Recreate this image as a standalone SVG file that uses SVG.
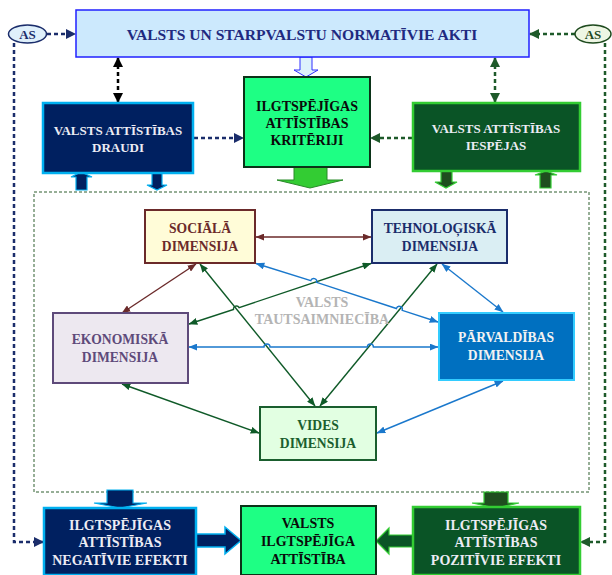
<svg xmlns="http://www.w3.org/2000/svg" width="612" height="575" viewBox="0 0 612 575">
  <style>
    text { font-family: "Liberation Serif", "Times New Roman", serif; font-weight: bold; text-anchor: middle; dominant-baseline: central; }
    .t-top { font-size: 15.6px; fill: #1f2a80; }
    .t-light { font-size: 13px; fill: #ececf4; }
    .t-big { font-size: 14px; }
    .t-dark { font-size: 14px; fill: #0a0a0a; }
    .t-dim { font-size: 13.6px; }
    .t-grey { font-size: 14px; fill: #b4b4b4; }
    .dash-thick { fill: none; stroke-width: 2.5; stroke-dasharray: 4 3; }
    .conn { fill: none; stroke-width: 1.4; }
  </style>
  <defs>
    <marker id="m-navy" viewBox="0 0 10 10" refX="9" refY="5" markerWidth="10" markerHeight="10" markerUnits="userSpaceOnUse" orient="auto-start-reverse">
      <path d="M0,0 L10,5 L0,10 z" fill="#1b2d6b"/>
    </marker>
    <marker id="m-green" viewBox="0 0 10 10" refX="9" refY="5" markerWidth="10" markerHeight="10" markerUnits="userSpaceOnUse" orient="auto-start-reverse">
      <path d="M0,0 L10,5 L0,10 z" fill="#1e5a2a"/>
    </marker>
    <marker id="m-black" viewBox="0 0 10 10" refX="9" refY="5" markerWidth="10" markerHeight="10" markerUnits="userSpaceOnUse" orient="auto-start-reverse">
      <path d="M0,0 L10,5 L0,10 z" fill="#000"/>
    </marker>
    <marker id="s-brown" viewBox="0 0 10 8" refX="9.5" refY="4" markerWidth="9" markerHeight="7" markerUnits="userSpaceOnUse" orient="auto-start-reverse">
      <path d="M0,0 L10,4 L0,8 z" fill="#6b2a2a"/>
    </marker>
    <marker id="s-green" viewBox="0 0 10 8" refX="9.5" refY="4" markerWidth="9" markerHeight="7" markerUnits="userSpaceOnUse" orient="auto-start-reverse">
      <path d="M0,0 L10,4 L0,8 z" fill="#0f5a28"/>
    </marker>
    <marker id="s-blue" viewBox="0 0 10 8" refX="9.5" refY="4" markerWidth="9" markerHeight="7" markerUnits="userSpaceOnUse" orient="auto-start-reverse">
      <path d="M0,0 L10,4 L0,8 z" fill="#1a78cc"/>
    </marker>
  </defs>

  <!-- economy frame -->
  <rect x="34" y="192" width="555" height="300" fill="none" stroke="#2f5f2f" stroke-width="1" stroke-dasharray="3 2"/>

  <!-- block arrows -->
  <g id="block-arrows">
    <polygon points="300,57 312,57 312,70 318,70 306,77 294,70 300,70" fill="#ddf2fb" stroke="#3030ff" stroke-width="1"/>
    <polygon points="294,167 327,167 327,180 343,180 310,188 277,180 294,180" fill="#33cc33" stroke="#2a8a2a" stroke-width="1"/>
    <polygon points="81,172 92,177 87,177 87,190 76,190 76,177 71,177" fill="#002060" stroke="#00b0f0" stroke-width="1.2"/>
    <polygon points="152,173 162,173 162,185 167,185 157,190 147,185 152,185" fill="#002060" stroke="#00b0f0" stroke-width="1.2"/>
    <polygon points="441,171 452,171 452,182 457,182 446,188 435,182 441,182" fill="#1f4e1f" stroke="#33cc33" stroke-width="1.2"/>
    <polygon points="546,171 557,175 551,175 551,188 540,188 540,175 535,175" fill="#1f4e1f" stroke="#33cc33" stroke-width="1.2"/>
    <polygon points="107,490 133,490 133,503 147,503 120,508 94,503 107,503" fill="#002060" stroke="#00b0f0" stroke-width="1.2"/>
    <polygon points="484,492 508,492 508,503 519,503 496,508 472,503 484,503" fill="#1f4e1f" stroke="#33cc33" stroke-width="1.2"/>
    <polygon points="196,534 225,534 225,527 241,540.5 225,554 225,547 196,547" fill="#002060" stroke="#00b0f0" stroke-width="1.5"/>
    <polygon points="413,535 389,535 389,528 376,541 389,554 389,547 413,547" fill="#0a5426" stroke="#33cc33" stroke-width="1.2"/>
  </g>

  <!-- connectors -->
  <g id="connectors">
    <path class="dash-thick" stroke="#1b2d6b" d="M47,34 H75" marker-end="url(#m-navy)"/>
    <path class="dash-thick" stroke="#1e5a2a" d="M575,34 H530" marker-end="url(#m-green)"/>
    <path class="dash-thick" stroke="#1b2d6b" d="M14,43 V542 H43" marker-end="url(#m-navy)"/>
    <path class="dash-thick" stroke="#1e5a2a" d="M605,43 V542 H581" marker-end="url(#m-green)"/>
    <path class="dash-thick" stroke="#000" d="M118,58 V102" marker-start="url(#m-black)" marker-end="url(#m-black)"/>
    <path class="dash-thick" stroke="#1e5a2a" d="M495,58 V102" marker-start="url(#m-green)" marker-end="url(#m-green)"/>
    <path class="dash-thick" stroke="#1b2d6b" d="M194,138 H243" marker-end="url(#m-navy)"/>
    <path class="dash-thick" stroke="#1e5a2a" d="M412,138 H371" marker-end="url(#m-green)"/>

    <path class="conn" stroke="#6b2a2a" d="M256,237 H371" marker-start="url(#s-brown)" marker-end="url(#s-brown)"/>
    <path class="conn" stroke="#6b2a2a" d="M196,264 L122,313" marker-start="url(#s-brown)" marker-end="url(#s-brown)"/>
    <path class="conn" stroke="#0f5a28" d="M200,264 L315,406" marker-start="url(#s-green)" marker-end="url(#s-green)"/>
    <path class="conn" stroke="#0f5a28" d="M437,264 L320,406" marker-start="url(#s-green)" marker-end="url(#s-green)"/>
    <path class="conn" stroke="#0f5a28" d="M189,324 L233.5,309.5 A3,3 0 0 1 239.1,307.6 L371,263.5" marker-start="url(#s-green)" marker-end="url(#s-green)"/>
    <path class="conn" stroke="#1a78cc" d="M256,263.5 L310.8,280.6 A3,3 0 0 1 316.6,282.4 L396.4,308.5 A3,3 0 0 1 402.2,310.3 L438,322" marker-start="url(#s-blue)" marker-end="url(#s-blue)"/>
    <path class="conn" stroke="#1a78cc" d="M189,347 L264,347 A3,3 0 0 1 270,347 L367.4,347 A3,3 0 0 1 373.4,347 L438,347" marker-start="url(#s-blue)" marker-end="url(#s-blue)"/>
    <path class="conn" stroke="#1a78cc" d="M442,264 L503,312" marker-start="url(#s-blue)" marker-end="url(#s-blue)"/>
    <path class="conn" stroke="#0f5a28" d="M122,384 L259,433" marker-start="url(#s-green)" marker-end="url(#s-green)"/>
    <path class="conn" stroke="#1a78cc" d="M503,381 L377,433" marker-start="url(#s-blue)" marker-end="url(#s-blue)"/>
  </g>

  <!-- nodes -->
  <g id="as-left">
    <ellipse cx="27.5" cy="34" rx="19" ry="9" fill="#dff0fb" stroke="#1b2d6b" stroke-width="1.5"/>
    <text x="27.5" y="34" style="font-size:13px;fill:#1b2d6b">AS</text>
  </g>
  <g id="as-right">
    <ellipse cx="593" cy="34" rx="18" ry="9" fill="#eef6e4" stroke="#1e4a1e" stroke-width="1.5"/>
    <text x="593" y="34" style="font-size:13px;fill:#1e4a1e">AS</text>
  </g>
  <g id="normativie-akti">
    <rect x="76" y="10" width="453" height="47" fill="#cce9fd" stroke="#2020ff" stroke-width="1.5"/>
    <text class="t-top" x="302" y="34">VALSTS UN STARPVALSTU NORMATĪVIE AKTI</text>
  </g>
  <g id="draudi">
    <rect x="43" y="103" width="150" height="70" fill="#002060" stroke="#00b0f0" stroke-width="2.5"/>
    <text class="t-light" x="118" y="130">VALSTS ATTĪSTĪBAS</text>
    <text class="t-light" x="118" y="147">DRAUDI</text>
  </g>
  <g id="kriteriji">
    <rect x="244" y="77" width="126" height="90" fill="#1eff84" stroke="#0b3318" stroke-width="2"/>
    <text class="t-dark" x="307" y="106">ILGTSPĒJĪGAS</text>
    <text class="t-dark" x="307" y="123">ATTĪSTĪBAS</text>
    <text class="t-dark" x="307" y="140">KRITĒRIJI</text>
  </g>
  <g id="iespejas">
    <rect x="413" y="103" width="167" height="68" fill="#0a5426" stroke="#33cc33" stroke-width="2.5"/>
    <text class="t-light" x="496" y="128">VALSTS ATTĪSTĪBAS</text>
    <text class="t-light" x="496" y="145">IESPĒJAS</text>
  </g>
  <g id="sociala">
    <rect x="145" y="210" width="110" height="53" fill="#fffcd8" stroke="#6b2a2a" stroke-width="2"/>
    <text class="t-dim" x="200" y="228" fill="#6b2a2a">SOCIĀLĀ</text>
    <text class="t-dim" x="200" y="246" fill="#6b2a2a">DIMENSIJA</text>
  </g>
  <g id="tehnologiska">
    <rect x="372" y="210" width="135" height="53" fill="#daeef3" stroke="#1b2d6b" stroke-width="2"/>
    <text class="t-dim" x="440" y="228" fill="#1b2d6b">TEHNOLOĢISKĀ</text>
    <text class="t-dim" x="440" y="246" fill="#1b2d6b">DIMENSIJA</text>
  </g>
  <g id="tautsaimnieciba">
    <text class="t-grey" x="322" y="302">VALSTS</text>
    <text class="t-grey" x="322" y="319">TAUTSAIMNIECĪBA</text>
  </g>
  <g id="ekonomiska">
    <rect x="53" y="313" width="135" height="70" fill="#ede8f0" stroke="#5e4a7a" stroke-width="2"/>
    <text class="t-dim" x="120" y="339" fill="#5e4a7a">EKONOMISKĀ</text>
    <text class="t-dim" x="120" y="357" fill="#5e4a7a">DIMENSIJA</text>
  </g>
  <g id="parvaldibas">
    <rect x="439" y="313" width="135" height="67" fill="#0070c0" stroke="#33ccff" stroke-width="2"/>
    <text class="t-dim" x="506" y="337" fill="#f2f2f2">PĀRVALDĪBAS</text>
    <text class="t-dim" x="506" y="355" fill="#f2f2f2">DIMENSIJA</text>
  </g>
  <g id="vides">
    <rect x="260" y="407" width="116" height="53" fill="#e2ffe2" stroke="#1a5e2e" stroke-width="2"/>
    <text class="t-dim" x="318" y="425" fill="#1a5e2e">VIDES</text>
    <text class="t-dim" x="318" y="443" fill="#1a5e2e">DIMENSIJA</text>
  </g>
  <g id="negativie-efekti">
    <rect x="44" y="508" width="152" height="67" fill="#002060" stroke="#00b0f0" stroke-width="2.5"/>
    <text class="t-light t-big" x="120" y="525">ILGTSPĒJĪGAS</text>
    <text class="t-light t-big" x="120" y="542">ATTĪSTĪBAS</text>
    <text class="t-light t-big" x="120" y="560">NEGATĪVIE EFEKTI</text>
  </g>
  <g id="ilgtspejiga-attistiba">
    <rect x="241" y="506" width="135" height="69" fill="#1eff84" stroke="#0b3318" stroke-width="2"/>
    <text class="t-dark" x="308" y="523">VALSTS</text>
    <text class="t-dark" x="308" y="541">ILGTSPĒJĪGA</text>
    <text class="t-dark" x="308" y="559">ATTĪSTĪBA</text>
  </g>
  <g id="pozitivie-efekti">
    <rect x="413" y="507" width="167" height="68" fill="#0a5426" stroke="#33cc33" stroke-width="2.5"/>
    <text class="t-light t-big" x="496" y="525">ILGTSPĒJĪGAS</text>
    <text class="t-light t-big" x="496" y="542">ATTĪSTĪBAS</text>
    <text class="t-light t-big" x="496" y="560">POZITĪVIE EFEKTI</text>
  </g>
</svg>
